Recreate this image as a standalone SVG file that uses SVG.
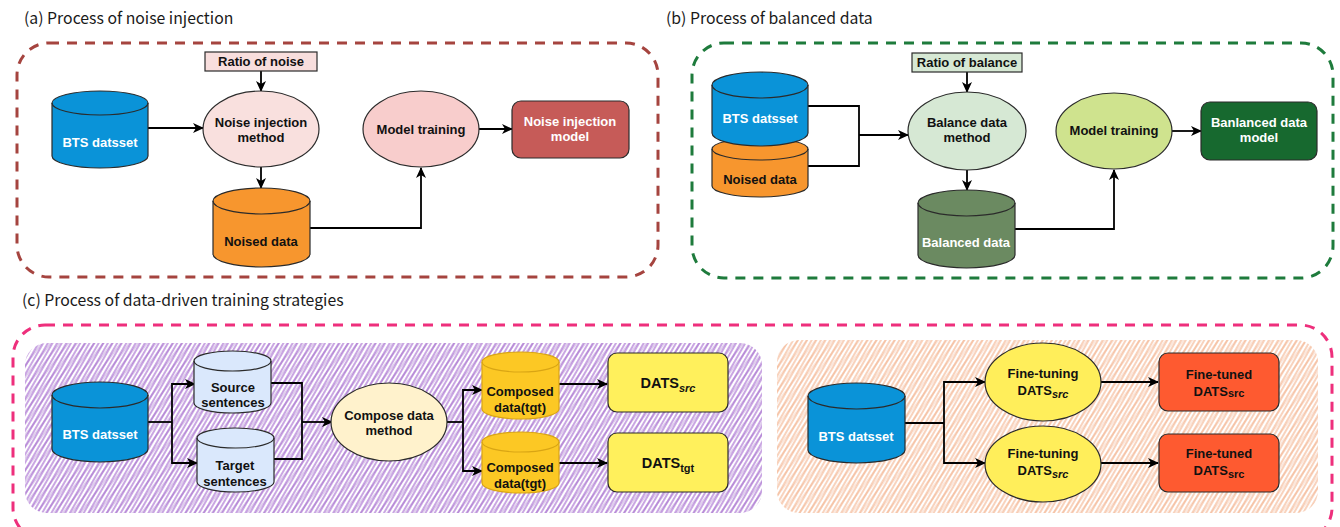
<svg xmlns="http://www.w3.org/2000/svg" width="1340" height="527" viewBox="0 0 1340 527">
  <defs>
    <style>
      .title { font-family: "Noto Sans CJK KR", "Noto Sans", sans-serif; font-size: 15.8px; fill: #1a1a1a; }
      .lbl { font-family: "Liberation Sans", Arial, sans-serif; font-size: 13px; font-weight: bold; text-anchor: middle; fill: #111; }
      .w { fill: #ffffff; }
      .big { font-size: 14.5px; }
      .node { stroke: #2b2b2b; stroke-width: 1.2; }
      .conn { fill: none; stroke: #000; stroke-width: 1.8; }
      .arrow { marker-end: url(#ah); }
      .frame { fill: none; stroke-width: 3; stroke-dasharray: 10 8; }
    </style>
    <marker id="ah" markerWidth="12" markerHeight="10" refX="10" refY="5" orient="auto" markerUnits="userSpaceOnUse">
      <path d="M0,0 L11,5 L0,10 L3,5 Z" fill="#000"/>
    </marker>
    <pattern id="hatchP1" width="4" height="4" patternUnits="userSpaceOnUse" patternTransform="rotate(30)">
      <line x1="1" y1="0" x2="1" y2="4" stroke="#9650c8" stroke-width="1.2" stroke-opacity="0.85"/>
    </pattern>
    <pattern id="hatchP2" width="7" height="7" patternUnits="userSpaceOnUse" patternTransform="rotate(37)">
      <line x1="2" y1="0" x2="2" y2="7" stroke="#8a44b8" stroke-width="0.9" stroke-opacity="0.6"/>
    </pattern>
    <pattern id="hatchO1" width="4" height="4" patternUnits="userSpaceOnUse" patternTransform="rotate(30)">
      <line x1="1" y1="0" x2="1" y2="4" stroke="#f09a68" stroke-width="1.1" stroke-opacity="0.8"/>
    </pattern>
    <pattern id="hatchO2" width="7" height="7" patternUnits="userSpaceOnUse" patternTransform="rotate(37)">
      <line x1="2" y1="0" x2="2" y2="7" stroke="#ec9060" stroke-width="0.8" stroke-opacity="0.55"/>
    </pattern>
  </defs>

  <rect width="1340" height="527" fill="#ffffff"/>

  <!-- section titles -->
  <text class="title" x="24" y="24">(a) Process of noise injection</text>
  <text class="title" x="666" y="24">(b) Process of balanced data</text>
  <text class="title" x="22" y="306">(c) Process of data-driven training strategies</text>

  <!-- dashed section frames -->
  <g id="frames">
    <rect class="frame" x="17" y="43" width="641" height="234" rx="32" stroke="#a5443f"/>
    <rect class="frame" x="692" y="43" width="641" height="235" rx="32" stroke="#1e7b3c"/>
    <rect class="frame" x="13" y="325" width="1319" height="215" rx="32" stroke="#ee2f7c"/>
  </g>

  <!-- hatched backgrounds in section (c) -->
  <g id="hatch-areas">
    <rect x="25" y="343" width="737" height="170" rx="22" fill="url(#hatchP1)"/>
    <rect x="25" y="343" width="737" height="170" rx="22" fill="url(#hatchP2)"/>
    <rect x="777" y="340" width="541" height="173" rx="22" fill="url(#hatchO1)"/>
    <rect x="777" y="340" width="541" height="173" rx="22" fill="url(#hatchO2)"/>
  </g>

  <!-- connectors -->
  <g id="connectors">
    <!-- (a) -->
    <path class="conn arrow" d="M261,71 L261,91"/>
    <path class="conn arrow" d="M148,128 L203,128"/>
    <path class="conn arrow" d="M261,167 L261,188"/>
    <path class="conn arrow" d="M310,228 L421,228 L421,168"/>
    <path class="conn arrow" d="M479,129 L512,129"/>
    <!-- (b) -->
    <path class="conn" d="M808,106 L859,106 L859,166 L808,166"/>
    <path class="conn arrow" d="M859,135 L908,135"/>
    <path class="conn arrow" d="M967,72 L967,92"/>
    <path class="conn arrow" d="M967,170 L967,190"/>
    <path class="conn arrow" d="M1015,229 L1114,229 L1114,170"/>
    <path class="conn arrow" d="M1172,131 L1201,131"/>
    <!-- (c) left -->
    <path class="conn" d="M148,422 L172,422"/>
    <path class="conn arrow" d="M172,422 L172,384 L195,384"/>
    <path class="conn arrow" d="M172,422 L172,463 L197,463"/>
    <path class="conn" d="M271,383 L302,383 L302,459 L274,459"/>
    <path class="conn arrow" d="M302,422 L332,422"/>
    <path class="conn" d="M447,422 L463,422"/>
    <path class="conn arrow" d="M463,422 L463,390 L482,390"/>
    <path class="conn arrow" d="M463,422 L463,471 L482,471"/>
    <path class="conn arrow" d="M559,384 L607,384"/>
    <path class="conn arrow" d="M559,463 L607,463"/>
    <!-- (c) right -->
    <path class="conn" d="M905,423 L944,423"/>
    <path class="conn arrow" d="M944,423 L944,382 L985,382"/>
    <path class="conn arrow" d="M944,423 L944,463 L985,463"/>
    <path class="conn arrow" d="M1101,382 L1158,382"/>
    <path class="conn arrow" d="M1101,463 L1158,463"/>
  </g>

  <!-- (a) nodes -->
  <g id="ratio-noise">
    <rect class="node" x="205" y="52" width="112" height="19" fill="#f8dedd"/>
    <text class="lbl" x="261" y="66">Ratio of noise</text>
  </g>
  <g id="bts-a">
    <path class="node" fill="#0a93d8" d="M52,103 a48,12 0 0 1 96,0 v53 a48,12 0 0 1 -96,0 Z"/>
    <path class="node" fill="none" d="M52,103 a48,12 0 0 0 96,0"/>
    <text class="lbl w" x="100" y="147">BTS datsset</text>
  </g>
  <g id="noise-method">
    <ellipse class="node" cx="261" cy="129" rx="58" ry="38" fill="#f9e0de"/>
    <text class="lbl" x="261" y="127">Noise injection</text>
    <text class="lbl" x="261" y="142">method</text>
  </g>
  <g id="noised-a">
    <path class="node" fill="#f7962e" d="M213,201 a48.5,13 0 0 1 97,0 v53 a48.5,13 0 0 1 -97,0 Z"/>
    <path class="node" fill="none" d="M213,201 a48.5,13 0 0 0 97,0"/>
    <text class="lbl" x="261" y="246">Noised data</text>
  </g>
  <g id="train-a">
    <ellipse class="node" cx="421" cy="129" rx="58" ry="38" fill="#f8cdcc"/>
    <text class="lbl" x="421" y="134">Model training</text>
  </g>
  <g id="noise-model">
    <rect class="node" x="512" y="101" width="117" height="57" rx="9" fill="#c65b58"/>
    <text class="lbl w" x="570" y="126">Noise injection</text>
    <text class="lbl w" x="570" y="141">model</text>
  </g>

  <!-- (b) nodes -->
  <g id="noised-b">
    <path class="node" fill="#f7962e" d="M712,149 a48,11 0 0 1 96,0 v37 a48,11 0 0 1 -96,0 Z"/>
    <path class="node" fill="none" d="M712,149 a48,11 0 0 0 96,0"/>
    <text class="lbl" x="760" y="184">Noised data</text>
  </g>
  <g id="bts-b">
    <path class="node" fill="#0a93d8" d="M712,85 a48,13 0 0 1 96,0 v48 a48,13 0 0 1 -96,0 Z"/>
    <path class="node" fill="none" d="M712,85 a48,13 0 0 0 96,0"/>
    <text class="lbl w" x="760" y="123">BTS datsset</text>
  </g>
  <g id="ratio-balance">
    <rect class="node" x="912" y="53" width="110" height="19" fill="#d6e8d4"/>
    <text class="lbl" x="967" y="67">Ratio of balance</text>
  </g>
  <g id="balance-method">
    <ellipse class="node" cx="967" cy="131" rx="59" ry="39" fill="#d6e8d4"/>
    <text class="lbl" x="967" y="127">Balance data</text>
    <text class="lbl" x="967" y="142">method</text>
  </g>
  <g id="balanced">
    <path class="node" fill="#6b8a61" d="M918,203 a48.5,13 0 0 1 97,0 v52 a48.5,13 0 0 1 -97,0 Z"/>
    <path class="node" fill="none" d="M918,203 a48.5,13 0 0 0 97,0"/>
    <text class="lbl w" x="966" y="247">Balanced data</text>
  </g>
  <g id="train-b">
    <ellipse class="node" cx="1114" cy="131" rx="58" ry="38" fill="#cfe38e"/>
    <text class="lbl" x="1114" y="135">Model training</text>
  </g>
  <g id="balanced-model">
    <rect class="node" x="1201" y="102" width="116" height="58" rx="9" fill="#17692f"/>
    <text class="lbl w" x="1259" y="127">Banlanced data</text>
    <text class="lbl w" x="1259" y="142">model</text>
  </g>

  <!-- (c) left nodes -->
  <g id="bts-c1">
    <path class="node" fill="#0a93d8" d="M52,395 a48,13 0 0 1 96,0 v54 a48,13 0 0 1 -96,0 Z"/>
    <path class="node" fill="none" d="M52,395 a48,13 0 0 0 96,0"/>
    <text class="lbl w" x="100" y="439">BTS datsset</text>
  </g>
  <g id="source">
    <path class="node" fill="#dae8fc" d="M194,361 a38.5,10 0 0 1 77,0 v42 a38.5,10 0 0 1 -77,0 Z"/>
    <path class="node" fill="none" d="M194,361 a38.5,10 0 0 0 77,0"/>
    <text class="lbl" x="233" y="392">Source</text>
    <text class="lbl" x="233" y="407">sentences</text>
  </g>
  <g id="target">
    <path class="node" fill="#dae8fc" d="M197,438 a38.5,10 0 0 1 77,0 v44 a38.5,10 0 0 1 -77,0 Z"/>
    <path class="node" fill="none" d="M197,438 a38.5,10 0 0 0 77,0"/>
    <text class="lbl" x="235" y="470">Target</text>
    <text class="lbl" x="235" y="486">sentences</text>
  </g>
  <g id="compose">
    <ellipse class="node" cx="389" cy="422" rx="58" ry="39" fill="#fff2cc"/>
    <text class="lbl" x="389" y="420">Compose data</text>
    <text class="lbl" x="389" y="435">method</text>
  </g>
  <g id="composed1">
    <path fill="#fcc824" stroke="#d9a514" stroke-width="1.2" d="M482,362 a38.5,10 0 0 1 77,0 v47 a38.5,10 0 0 1 -77,0 Z"/>
    <path fill="none" stroke="#d9a514" stroke-width="1.2" d="M482,362 a38.5,10 0 0 0 77,0"/>
    <text class="lbl" x="520" y="396">Composed</text>
    <text class="lbl" x="520" y="412">data(tgt)</text>
  </g>
  <g id="composed2">
    <path fill="#fcc824" stroke="#d9a514" stroke-width="1.2" d="M482,442 a38.5,10 0 0 1 77,0 v41 a38.5,10 0 0 1 -77,0 Z"/>
    <path fill="none" stroke="#d9a514" stroke-width="1.2" d="M482,442 a38.5,10 0 0 0 77,0"/>
    <text class="lbl" x="520" y="472">Composed</text>
    <text class="lbl" x="520" y="488">data(tgt)</text>
  </g>
  <g id="dats-src">
    <rect class="node" x="608" y="353" width="120" height="59" rx="9" fill="#fff05c"/>
    <text class="lbl big" x="668" y="388">DATS<tspan font-style="italic" font-size="11" dy="4">src</tspan></text>
  </g>
  <g id="dats-tgt">
    <rect class="node" x="608" y="433" width="120" height="59" rx="9" fill="#fff05c"/>
    <text class="lbl big" x="668" y="468">DATS<tspan font-size="11" dy="4">tgt</tspan></text>
  </g>

  <!-- (c) right nodes -->
  <g id="bts-c2">
    <path class="node" fill="#0a93d8" d="M808,396 a48.5,13 0 0 1 97,0 v54 a48.5,13 0 0 1 -97,0 Z"/>
    <path class="node" fill="none" d="M808,396 a48.5,13 0 0 0 97,0"/>
    <text class="lbl w" x="856" y="441">BTS datsset</text>
  </g>
  <g id="finetune1">
    <ellipse class="node" cx="1043" cy="382" rx="58" ry="39" fill="#ffee5a"/>
    <text class="lbl" x="1043" y="378">Fine-tuning</text>
    <text class="lbl" x="1043" y="395">DATS<tspan font-style="italic" font-size="11" dy="3">src</tspan></text>
  </g>
  <g id="finetune2">
    <ellipse class="node" cx="1043" cy="464" rx="58" ry="38" fill="#ffee5a"/>
    <text class="lbl" x="1043" y="458">Fine-tuning</text>
    <text class="lbl" x="1043" y="475">DATS<tspan font-style="italic" font-size="11" dy="3">src</tspan></text>
  </g>
  <g id="finetuned1">
    <rect class="node" x="1159" y="353" width="120" height="58" rx="9" fill="#fe5a30"/>
    <text class="lbl" x="1219" y="379">Fine-tuned</text>
    <text class="lbl" x="1219" y="396">DATS<tspan font-size="11" dy="1">src</tspan></text>
  </g>
  <g id="finetuned2">
    <rect class="node" x="1159" y="434" width="120" height="58" rx="9" fill="#fe5a30"/>
    <text class="lbl" x="1219" y="458">Fine-tuned</text>
    <text class="lbl" x="1219" y="475">DATS<tspan font-size="11" dy="3">src</tspan></text>
  </g>
</svg>
